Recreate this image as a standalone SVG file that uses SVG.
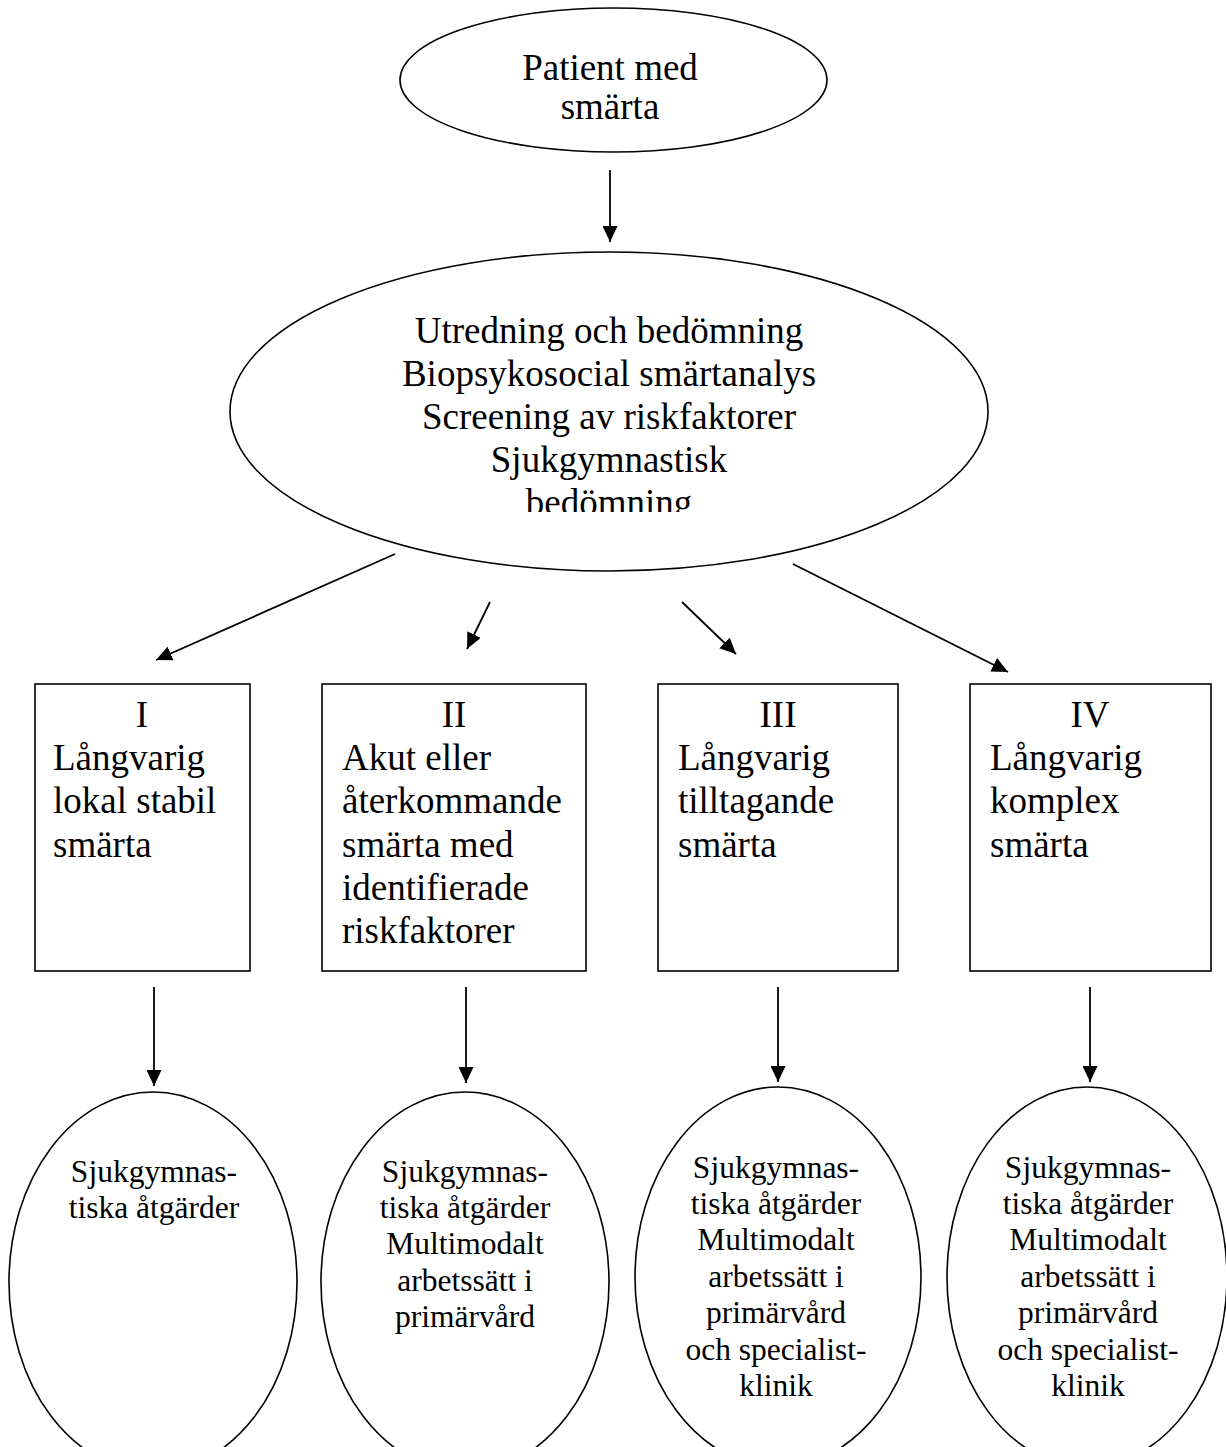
<svg xmlns="http://www.w3.org/2000/svg" width="1226" height="1447" viewBox="0 0 1226 1447">
<style>
.shape{fill:#fff;stroke:#000;stroke-width:1.6}
.t{font-family:"Liberation Serif","Times New Roman",serif;fill:#000}
.big{font-size:37px}
.small{font-size:31.5px}
.c{text-anchor:middle}
.conn line{stroke:#000;stroke-width:1.8;marker-end:url(#ah)}
</style>
<defs>
<marker id="ah" viewBox="0 0 16 15" refX="16" refY="7.5" markerWidth="16" markerHeight="15" orient="auto" markerUnits="userSpaceOnUse">
<path d="M0,0 L16,7.5 L0,15 z" fill="#000"/>
</marker>
<clipPath id="clipBig"><rect x="230" y="250" width="760" height="262"/></clipPath>
</defs>
<rect width="1226" height="1447" fill="#fff"/>

<g id="patient">
<ellipse class="shape" cx="613.5" cy="80" rx="213.5" ry="72"/>
<text class="t big c" x="610" y="80">Patient med</text>
<text class="t big c" x="610" y="119">smärta</text>
</g>

<g id="utredning">
<ellipse class="shape" cx="609" cy="411.5" rx="379" ry="159.5"/>
<g clip-path="url(#clipBig)">
<text class="t big c" x="609" y="343">Utredning och bedömning</text>
<text class="t big c" x="609" y="386">Biopsykosocial smärtanalys</text>
<text class="t big c" x="609" y="429">Screening av riskfaktorer</text>
<text class="t big c" x="609" y="472">Sjukgymnastisk</text>
<text class="t big c" x="609" y="515">bedömning</text>
</g>
</g>

<g id="box1">
<rect class="shape" x="35" y="684" width="215" height="287"/>
<text class="t big c" x="142" y="727">I</text>
<text class="t big" x="53" y="770">Långvarig</text>
<text class="t big" x="53" y="813">lokal stabil</text>
<text class="t big" x="53" y="857">smärta</text>
</g>

<g id="box2">
<rect class="shape" x="322" y="684" width="264" height="287"/>
<text class="t big c" x="454" y="727">II</text>
<text class="t big" x="342" y="770">Akut eller</text>
<text class="t big" x="342" y="813">återkommande</text>
<text class="t big" x="342" y="857">smärta med</text>
<text class="t big" x="342" y="900">identifierade</text>
<text class="t big" x="342" y="943">riskfaktorer</text>
</g>

<g id="box3">
<rect class="shape" x="658" y="684" width="240" height="287"/>
<text class="t big c" x="778" y="727">III</text>
<text class="t big" x="678" y="770">Långvarig</text>
<text class="t big" x="678" y="813">tilltagande</text>
<text class="t big" x="678" y="857">smärta</text>
</g>

<g id="box4">
<rect class="shape" x="970" y="684" width="241" height="287"/>
<text class="t big c" x="1090" y="727">IV</text>
<text class="t big" x="990" y="770">Långvarig</text>
<text class="t big" x="990" y="813">komplex</text>
<text class="t big" x="990" y="857">smärta</text>
</g>

<g id="atgard1">
<ellipse class="shape" cx="153" cy="1282" rx="144" ry="190"/>
<text class="t small c" x="154" y="1182">Sjukgymnas-</text>
<text class="t small c" x="154" y="1218">tiska åtgärder</text>
</g>

<g id="atgard2">
<ellipse class="shape" cx="465" cy="1282" rx="144" ry="190"/>
<text class="t small c" x="465" y="1182">Sjukgymnas-</text>
<text class="t small c" x="465" y="1218">tiska åtgärder</text>
<text class="t small c" x="465" y="1254">Multimodalt</text>
<text class="t small c" x="465" y="1291">arbetssätt i</text>
<text class="t small c" x="465" y="1327">primärvård</text>
</g>

<g id="atgard3">
<ellipse class="shape" cx="778" cy="1277" rx="143" ry="190"/>
<text class="t small c" x="776" y="1178">Sjukgymnas-</text>
<text class="t small c" x="776" y="1214">tiska åtgärder</text>
<text class="t small c" x="776" y="1250">Multimodalt</text>
<text class="t small c" x="776" y="1287">arbetssätt i</text>
<text class="t small c" x="776" y="1323">primärvård</text>
<text class="t small c" x="776" y="1360">och specialist-</text>
<text class="t small c" x="776" y="1396">klinik</text>
</g>

<g id="atgard4">
<ellipse class="shape" cx="1087" cy="1277" rx="140" ry="190"/>
<text class="t small c" x="1088" y="1178">Sjukgymnas-</text>
<text class="t small c" x="1088" y="1214">tiska åtgärder</text>
<text class="t small c" x="1088" y="1250">Multimodalt</text>
<text class="t small c" x="1088" y="1287">arbetssätt i</text>
<text class="t small c" x="1088" y="1323">primärvård</text>
<text class="t small c" x="1088" y="1360">och specialist-</text>
<text class="t small c" x="1088" y="1396">klinik</text>
</g>

<g id="connectors" class="conn">
<line x1="610" y1="170" x2="610" y2="242"/>
<line x1="395" y1="554" x2="156" y2="660"/>
<line x1="490" y1="602" x2="467" y2="649"/>
<line x1="682" y1="602" x2="736" y2="654"/>
<line x1="793" y1="564" x2="1008" y2="672"/>
<line x1="154" y1="987" x2="154" y2="1086"/>
<line x1="466" y1="987" x2="466" y2="1083"/>
<line x1="778" y1="987" x2="778" y2="1082"/>
<line x1="1090" y1="987" x2="1090" y2="1082"/>
</g>
</svg>
